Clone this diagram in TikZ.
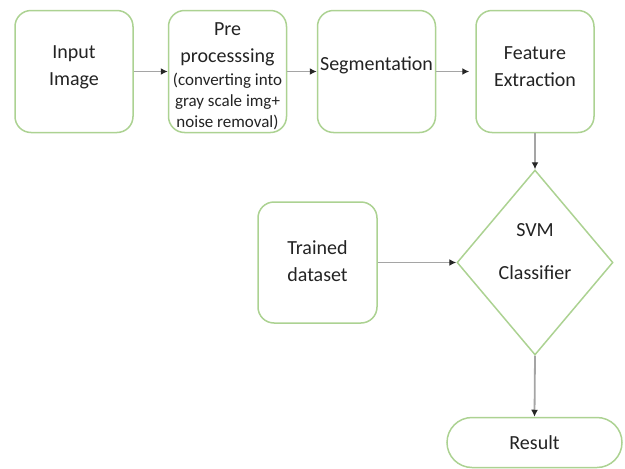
\documentclass[tikz,border=0pt]{standalone}
\usepackage{fontspec}
\setmainfont{Carlito}
\usetikzlibrary{shapes.geometric,arrows.meta}
\definecolor{boxgreen}{RGB}{172,210,146}
\definecolor{linegray}{RGB}{165,165,165}
\definecolor{txt}{RGB}{35,35,35}
\tikzset{
  stage/.style={draw=boxgreen, line width=1.5pt, rounded corners=16pt,
    minimum width=118pt, minimum height=122pt, inner sep=0pt},
  lbl/.style={text=txt, font=\fontsize{20}{27}\selectfont, align=center, inner sep=0pt},
  small/.style={text=txt, font=\fontsize{17}{21}\selectfont, align=center, inner sep=0pt},
  flow/.style={draw=linegray, line width=1.8pt,
    -{Latex[length=7pt,width=7pt,color=black!85]}}
}
\begin{document}
\begin{tikzpicture}[x=1pt,y=-1pt]
\useasboundingbox (0,0) rectangle (625,469);
% processing stages
\node[stage] (input) at (74,71.5) {};
\node[stage] (pre) at (227.5,71.5) {};
\node[stage] (seg) at (376.5,71.5) {};
\node[stage] (feat) at (535,71.5) {};
\node[stage, minimum width=119pt, minimum height=121pt] (train) at (317.5,262.5) {};
\node[draw=boxgreen, line width=1.5pt, shape=diamond, inner sep=0pt,
  minimum width=156pt, minimum height=185pt] (svm) at (535,262.5) {};
\node[draw=boxgreen, line width=1.5pt, rounded corners=25pt, inner sep=0pt,
  minimum width=175pt, minimum height=50pt] (res) at (534.5,442.5) {};
% labels
\node[lbl] (tinput) at (74,67) {Input\\Image};
\node[lbl] (tpre1) at (227.5,44) {Pre\\processsing};
\node[small] (tpre2) at (227.5,101) {(converting into\\gray scale img+\\noise removal)};
\node[lbl] (tseg) at (376.5,65) {Segmentation};
\node[lbl] (tfeat) at (535,67) {Feature\\Extraction};
\node[lbl] (ttrain) at (317.5,261) {Trained\\dataset};
\node[lbl] (tsvm1) at (535,230) {SVM};
\node[lbl] (tsvm2) at (535,273) {Classifier};
\node[lbl] (tres) at (534.5,443) {Result};
% connectors
\draw[flow] (input.east) -- (pre.west);
\draw[flow] (pre.east) -- (seg.west);
\draw[flow] (seg.east) -- ([xshift=-6pt]feat.west);
\draw[flow] (feat.south) -- (svm.north);
\draw[flow] (train.east) -- (svm.west);
\draw[flow] (svm.south) -- (res.north);
\end{tikzpicture}
\end{document}
